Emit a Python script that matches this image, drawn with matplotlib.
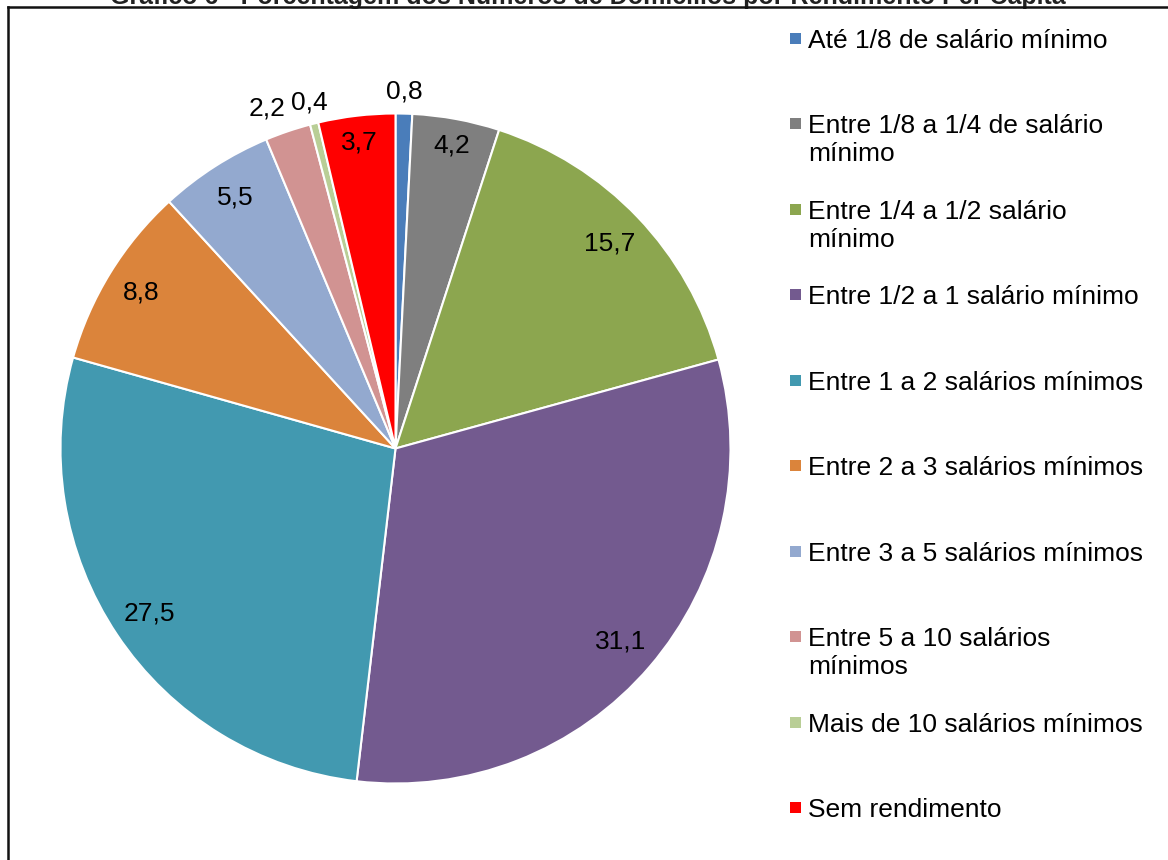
import numpy as np
import matplotlib
matplotlib.use("Agg")
import matplotlib.pyplot as plt
from matplotlib.patches import Rectangle
from matplotlib.lines import Line2D

plt.rcParams['font.family'] = ['Liberation Sans', 'DejaVu Sans']

title = "Gráfico 6 - Porcentagem dos Números de Domicílios por Rendimento Per Capita"
categories = [
    "Até 1/8 de salário mínimo",
    "Entre 1/8 a 1/4 de salário\nmínimo",
    "Entre 1/4 a 1/2 salário\nmínimo",
    "Entre 1/2 a 1 salário mínimo",
    "Entre 1 a 2 salários mínimos",
    "Entre 2 a 3 salários mínimos",
    "Entre 3 a 5 salários mínimos",
    "Entre 5 a 10 salários\nmínimos",
    "Mais de 10 salários mínimos",
    "Sem rendimento",
]
values = [0.8, 4.2, 15.7, 31.1, 27.5, 8.8, 5.5, 2.2, 0.4, 3.7]
value_labels = ["0,8", "4,2", "15,7", "31,1", "27,5", "8,8", "5,5", "2,2", "0,4", "3,7"]
colors = ["#4A7DBA", "#7F7F7F", "#8CA64F", "#735A8F", "#4299B0",
          "#DB843B", "#93A9CF", "#D19392", "#B9CE96", "#FF0000"]
# radial position of each value label (fraction of radius)
label_r = [1.065, 0.92, 0.885, 0.885, 0.885, 0.89, 0.89, 1.085, 1.065, 0.92]
label_angle_shift = [0, 0, 0, 0, 0, 0, 0, -2.0, 0, 0]

W, H = 1168, 860
fig = plt.figure(figsize=(W / 100, H / 100), dpi=100)
ax = fig.add_axes([0, 0, 1, 1])
ax.set_xlim(0, W)
ax.set_ylim(0, H)
ax.set_aspect('equal')
ax.axis('off')

cx, cy, R = 395.5, H - 448.5, 335
wedges, _ = ax.pie(values, colors=colors, startangle=90, counterclock=False,
                   center=(cx, cy), radius=R,
                   wedgeprops=dict(edgecolor='white', linewidth=1.5))
ax.set_xlim(0, W)
ax.set_ylim(0, H)

fs = 19
total = sum(values)
cum = 0.0
for v, lab, rf, sh in zip(values, value_labels, label_r, label_angle_shift):
    mid = (cum + v / 2) / total * 360 + sh
    cum += v
    th = np.deg2rad(90 - mid)
    ax.text(cx + rf * R * np.cos(th), cy + rf * R * np.sin(th), lab,
            ha='center', va='center', fontsize=fs, color='black')

# legend
y0, dy = 38.3, 85.5
for i, (cat, col) in enumerate(zip(categories, colors)):
    yc = H - (y0 + i * dy)
    ax.add_patch(Rectangle((790, yc - 5.5), 11, 11, facecolor=col, edgecolor='none'))
    ax.text(808, yc + 9.5, cat, ha='left', va='top', fontsize=fs,
            color='black', linespacing=1.22)

# title (partially cut at top) and frame
ax.text(588, H - 4, title, ha='center', va='baseline', fontsize=18,
        fontweight='bold', color='#222222')
fig.add_artist(Line2D([8 / W, 8 / W], [0, 1 - 7 / H], transform=fig.transFigure,
                      color='#111111', linewidth=1.8))
fig.add_artist(Line2D([8 / W, 1], [1 - 7 / H, 1 - 7 / H], transform=fig.transFigure,
                      color='#111111', linewidth=1.8))

fig.savefig("out.png", dpi=100)
